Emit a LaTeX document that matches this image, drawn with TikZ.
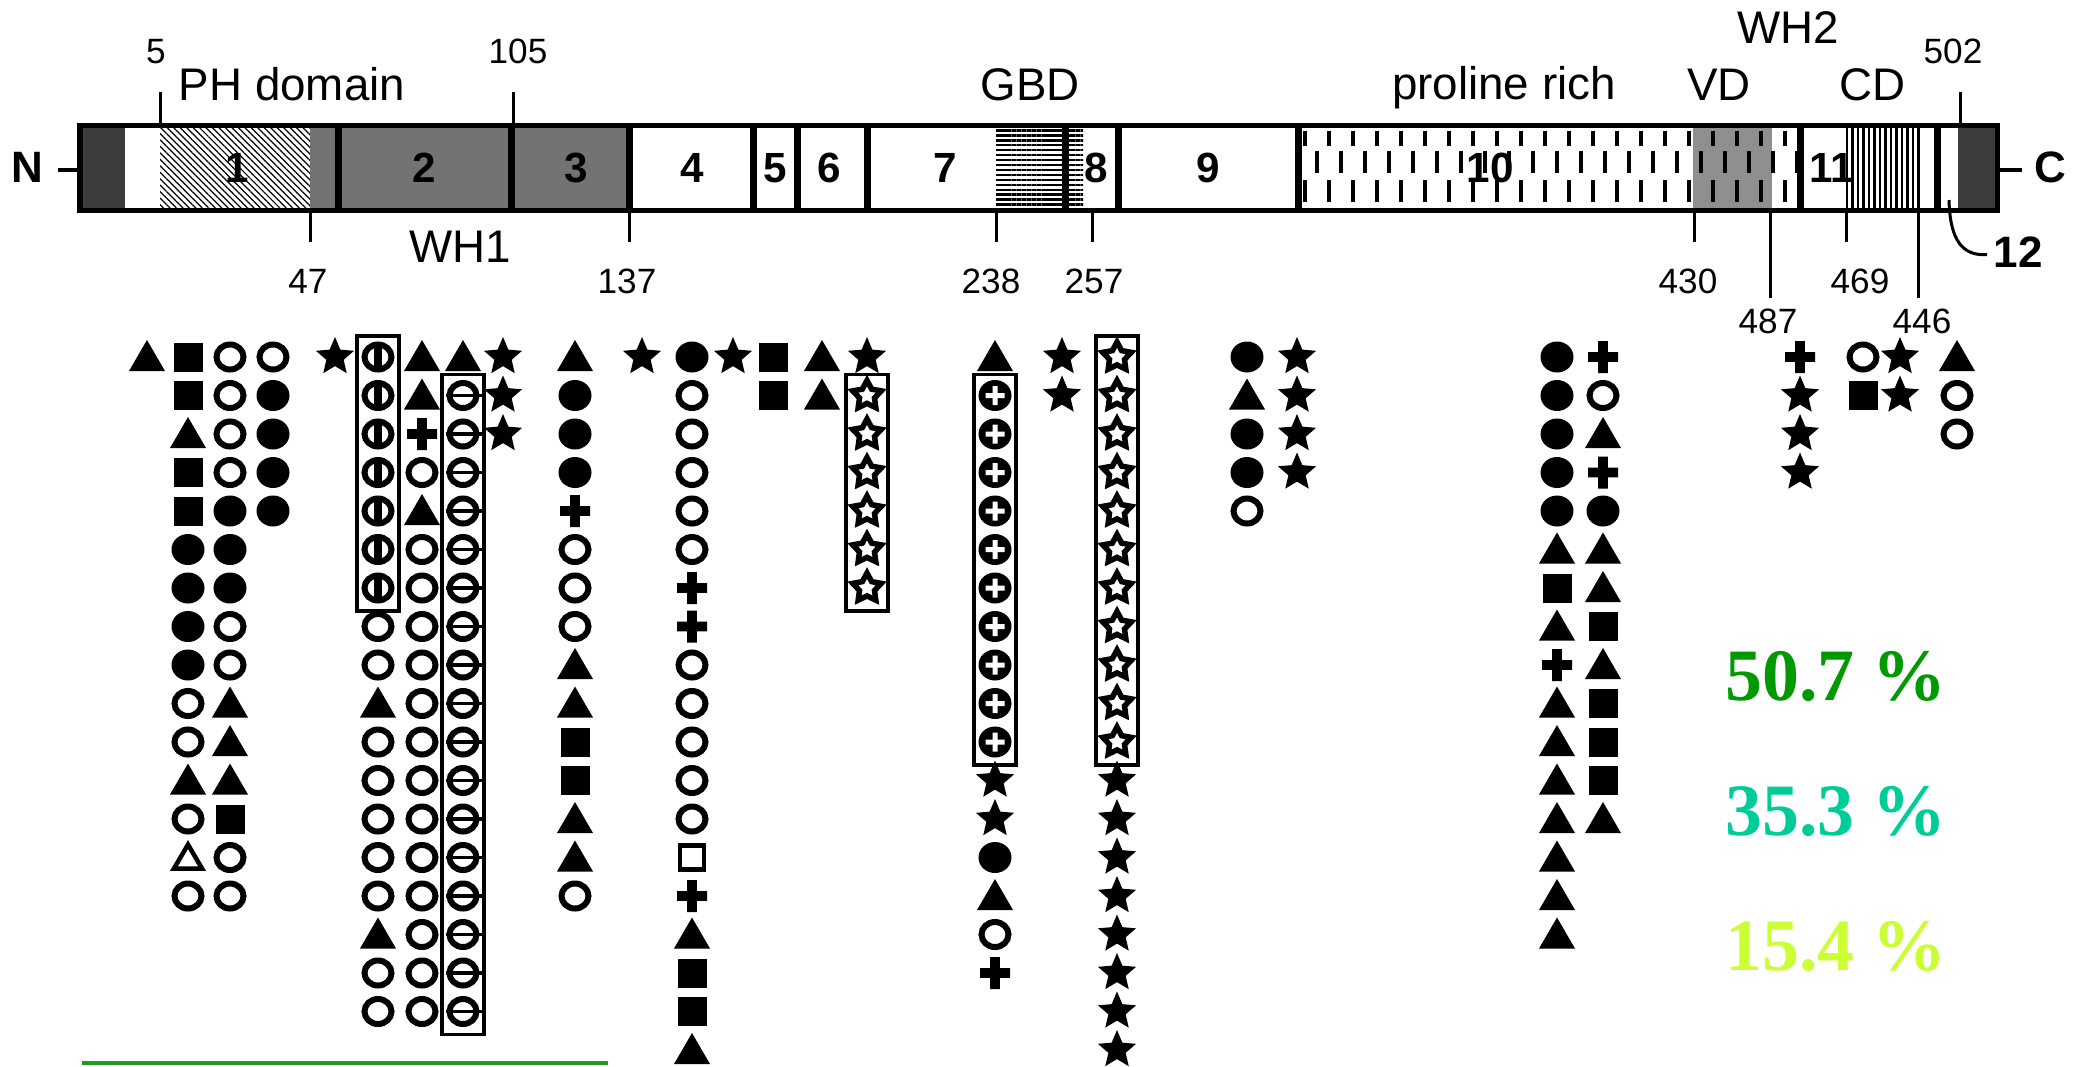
\documentclass[tikz,border=0pt]{standalone}
\usepackage{fontspec}
\setmainfont{Liberation Sans}
\newfontfamily\pctfont{Liberation Serif}
\usetikzlibrary{shapes.geometric,patterns.meta}
\definecolor{dk}{HTML}{3C3C3C}
\definecolor{md}{HTML}{737373}
\definecolor{lg}{HTML}{8F8F8F}
\definecolor{pgreen}{HTML}{009900}
\definecolor{pteal}{HTML}{00CC99}
\definecolor{pyell}{HTML}{CCFF33}
\definecolor{gline}{HTML}{229922}

% symbol macros (pixel units, y downwards)
\newcommand\SYMtri{\fill (-18,14) -- (18,14) -- (0,-17) -- cycle;}
\newcommand\SYMotri{\draw[line width=0.045cm,line join=miter] (-14,11) -- (14,11) -- (0,-13) -- cycle;}
\newcommand\SYMsq{\fill (-14.5,-14.5) rectangle (14.5,14.5);}
\newcommand\SYMosq{\draw[line width=0.045cm] (-12,-12) rectangle (12,12);}
\newcommand\SYMfc{\fill (0,0) ellipse [x radius=16.5, y radius=15.5];}
\newcommand\SYMoc{\draw[line width=0.06cm] (0,0) ellipse [x radius=13.5, y radius=12.5];}
\newcommand\SYMpl{\fill (-15,-4.8) rectangle (15,4.8) (-4.8,-16) rectangle (4.8,16);}
\newcommand\SYMst{\node[star,star points=5,star point ratio=2.2,fill,draw=none,inner sep=0,minimum size=0.40cm] {};}
\newcommand\SYMost{\node[star,star points=5,star point ratio=1.9,draw,line width=0.055cm,inner sep=0,minimum size=0.30cm] {};}
\newcommand\SYMvc{\SYMoc\fill (-4,-12) rectangle (4,12);}
\newcommand\SYMhc{\SYMoc\draw[line width=0.035cm] (-17,0) -- (19,0);}
\newcommand\SYMpc{\fill (0,0) ellipse [x radius=16.5, y radius=15.5]; \fill[white] (-9.5,-2.5) rectangle (9.5,2.5) (-2.5,-9.5) rectangle (2.5,9.5);}
\newcommand\symat[2]{\begin{scope}[shift={#1}]\csname SYM#2\endcsname\end{scope}}
\newcommand\symcol[3]{\foreach \s [count=\i from #2] in {#3}{\symat{(#1,{357+38.5*(\i-1)})}{\s}}}
\newcommand\boxcol[3]{\draw[line width=0.035cm] (#1-21,{357+38.5*(#2-1)-21}) rectangle (#1+21,{357+38.5*(#3-1)+23});}

\begin{document}
\begin{tikzpicture}[x=0.01cm,y=-0.01cm,
  lbl/.style={font=\fontsize{13}{15}\selectfont,inner sep=0,anchor=base},
  num/.style={font=\fontsize{10}{12}\selectfont,inner sep=0,anchor=base},
  segn/.style={font=\fontsize{12}{14}\selectfont\bfseries,inner sep=0,anchor=base},
  endl/.style={font=\fontsize{12.5}{14}\selectfont\bfseries,inner sep=0,anchor=base},
  pct/.style={font=\pctfont\bfseries\fontsize{21}{24}\selectfont,inner sep=0,anchor=base},
  tickln/.style={line width=0.03cm},
  divln/.style={line width=0.07cm}]
\useasboundingbox (0,0) rectangle (2075,1066);

% ---------- bar fills ----------
\fill[white] (80,125) rectangle (1997,210);
\fill[dk] (80,125) rectangle (125,210);
\fill[pattern={Lines[angle=-45,distance=1.3pt,line width=0.35pt]}] (160,125) rectangle (310,210);
\fill[md] (310,125) rectangle (629,210);
\fill[lg] (1693,125) rectangle (1772,210);
\fill[dk] (1958,125) rectangle (1997,210);
\fill[pattern={Lines[angle=0,distance=1.4pt,line width=0.65pt]}] (996,128) rectangle (1083,207);
\foreach \k in {0,...,41}{
  \pgfmathsetmacro\xx{1305+12*\k}
  \ifodd\k
    \draw[line width=0.035cm] (\xx,151) -- (\xx,173);
  \else
    \draw[line width=0.035cm] (\xx,131) -- (\xx,146) (\xx,180) -- (\xx,202);
  \fi
}
\foreach \x in {1847,1852.5,...,1920} \draw[line width=0.022cm] (\x,127) -- (\x,208);
\foreach \x in {338,511,629,753,797,867,1065,1118,1298,1800,1937} \draw[divln] (\x,125) -- (\x,210);
\draw[line width=0.05cm] (80,125) rectangle (1997,210);

% ---------- segment numbers ----------
\foreach \n/\x in {1/237,2/424,3/576,4/692,5/775,6/829,7/945,8/1096,9/1208,10/1490,11/1832}
  \node[segn] (seg\n) at (\x,182) {\n};

% ---------- ends ----------
\node[endl] (nN) at (27,182) {N};
\coordinate (nLine) at (58,170);
\coordinate (barL) at (80,170);
\draw[line width=0.04cm] (nLine) -- (barL);
\node[endl] (nC) at (2050,182) {C};
\coordinate (cLine) at (2022,170);
\coordinate (barR) at (1997,170);
\draw[line width=0.04cm] (barR) -- (cLine);
\node[endl,anchor=base west] (n12) at (1993,267) {12};
\coordinate (c12) at (1949,200);
\draw[line width=0.03cm] (c12) .. controls (1950,240) and (1962,256) .. ([xshift=-0.06cm,yshift=-0.03cm]n12.west);

% ---------- domain labels ----------
\node[lbl] (ph) at (292,100) {PH domain};
\node[lbl] (gbd) at (1030,100) {GBD};
\node[lbl] (pro) at (1504,99) {proline rich};
\node[lbl] (vd) at (1719,100) {VD};
\node[lbl] (cd) at (1872,100) {CD};
\node[lbl] (wh2) at (1788,43) {WH2};
\node[lbl] (wh1) at (460,262) {WH1};

% ---------- ticks ----------
\foreach \x in {160,513,1960} \draw[tickln] (\x,92) -- (\x,125);
\foreach \x in {310,629,996,1092,1694,1846} \draw[tickln] (\x,210) -- (\x,242);
\foreach \x in {1770,1918} \draw[tickln] (\x,210) -- (\x,298);
\node[num] (l5) at (156,63) {5};
\node[num] (l105) at (518,63) {105};
\node[num] (l502) at (1953,63) {502};
\node[num] (l47) at (308,293) {47};
\node[num] (l137) at (627,293) {137};
\node[num] (l238) at (991,293) {238};
\node[num] (l257) at (1094,293) {257};
\node[num] (l430) at (1688,293) {430};
\node[num] (l469) at (1860,293) {469};
\node[num] (l487) at (1768,333) {487};
\node[num] (l446) at (1922,333) {446};

% ---------- symbol columns ----------
% group A
\symcol{147}{1}{tri}
\symcol{188}{1}{sq,sq,tri,sq,sq,fc,fc,fc,fc,oc,oc,tri,oc,otri,oc}
\symcol{230}{1}{oc,oc,oc,oc,fc,fc,fc,oc,oc,tri,tri,tri,sq,oc,oc}
\symcol{273}{1}{oc,fc,fc,fc,fc}
% group B
\symcol{335}{1}{st}
\symcol{378}{1}{vc,vc,vc,vc,vc,vc,vc,oc,oc,tri,oc,oc,oc,oc,oc,tri,oc,oc}
\boxcol{378}{1}{7}
\symcol{422}{1}{tri,tri,pl,oc,tri,oc,oc,oc,oc,oc,oc,oc,oc,oc,oc,oc,oc,oc}
\symcol{463}{1}{tri,hc,hc,hc,hc,hc,hc,hc,hc,hc,hc,hc,hc,hc,hc,hc,hc,hc}
\boxcol{463}{2}{18}
\symcol{503}{1}{st,st,st}
% group C
\symcol{575}{1}{tri,fc,fc,fc,pl,oc,oc,oc,tri,tri,sq,sq,tri,tri,oc}
\symcol{642}{1}{st}
\symcol{692}{1}{fc,oc,oc,oc,oc,oc,pl,pl,oc,oc,oc,oc,oc,osq,pl,tri,sq,sq,tri}
\symcol{733}{1}{st}
\symcol{773}{1}{sq,sq}
\symcol{822}{1}{tri,tri}
\symcol{867}{1}{st,ost,ost,ost,ost,ost,ost}
\boxcol{867}{2}{7}
% group D
\symcol{995}{1}{tri,pc,pc,pc,pc,pc,pc,pc,pc,pc,pc,st,st,fc,tri,oc,pl}
\boxcol{995}{2}{11}
\symcol{1062}{1}{st,st}
\symcol{1117}{1}{ost,ost,ost,ost,ost,ost,ost,ost,ost,ost,ost,st,st,st,st,st,st,st,st}
\boxcol{1117}{1}{11}
% group E
\symcol{1247}{1}{fc,tri,fc,fc,oc}
\symcol{1297}{1}{st,st,st,st}
% group F
\symcol{1557}{1}{fc,fc,fc,fc,fc,tri,sq,tri,pl,tri,tri,tri,tri,tri,tri,tri}
\symcol{1603}{1}{pl,oc,tri,pl,fc,tri,tri,sq,tri,sq,sq,sq,tri}
% group G
\symcol{1800}{1}{pl,st,st,st}
\symcol{1863}{1}{oc,sq}
\symcol{1900}{1}{st,st}
\symcol{1957}{1}{tri,oc,oc}

% ---------- percentages ----------
\node[pct,text=pgreen] (p1) at (1836,700) {50.7 \%};
\node[pct,text=pteal] (p2) at (1836,835) {35.3 \%};
\node[pct,text=pyell] (p3) at (1836,970) {15.4 \%};

% ---------- bottom line ----------
\coordinate (gA) at (82,1063);
\coordinate (gB) at (608,1063);
\draw[gline,line width=0.04cm] (gA) -- (gB);
\end{tikzpicture}
\end{document}
